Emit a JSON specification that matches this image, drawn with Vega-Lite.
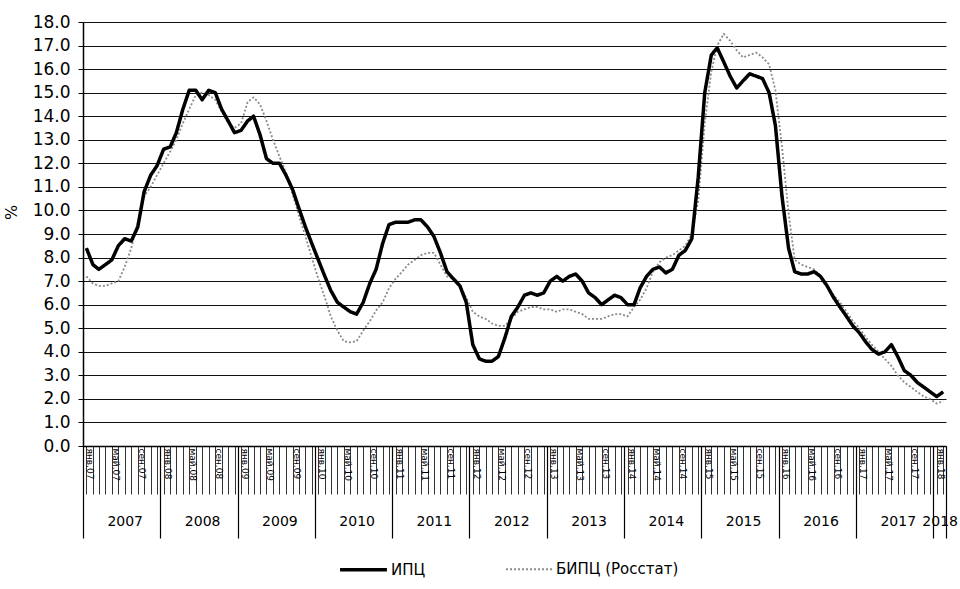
{
  "$schema": "https://vega.github.io/schema/vega-lite/v6.json",
  "autosize": "none",
  "width": 863,
  "height": 424,
  "padding": {"left": 83, "top": 22, "right": 14, "bottom": 143},
  "background": "white",
  "config": {
    "font": "DejaVu Sans",
    "view": {"stroke": null},
    "axis": {"labelColor": "black", "tickColor": "black", "domainColor": "black"}
  },
  "data": {"values": [
    {"d":"2007/01/01","ИПЦ":8.4,"БИПЦ (Росстат)":7.2},
    {"d":"2007/02/01","ИПЦ":7.7,"БИПЦ (Росстат)":6.9},
    {"d":"2007/03/01","ИПЦ":7.5,"БИПЦ (Росстат)":6.8},
    {"d":"2007/04/01","ИПЦ":7.7,"БИПЦ (Росстат)":6.8},
    {"d":"2007/05/01","ИПЦ":7.9,"БИПЦ (Росстат)":6.9},
    {"d":"2007/06/01","ИПЦ":8.5,"БИПЦ (Росстат)":7.0},
    {"d":"2007/07/01","ИПЦ":8.8,"БИПЦ (Росстат)":7.6},
    {"d":"2007/08/01","ИПЦ":8.7,"БИПЦ (Росстат)":8.4},
    {"d":"2007/09/01","ИПЦ":9.3,"БИПЦ (Росстат)":9.5},
    {"d":"2007/10/01","ИПЦ":10.8,"БИПЦ (Росстат)":10.6},
    {"d":"2007/11/01","ИПЦ":11.5,"БИПЦ (Росстат)":11.0},
    {"d":"2007/12/01","ИПЦ":11.9,"БИПЦ (Росстат)":11.5},
    {"d":"2008/01/01","ИПЦ":12.6,"БИПЦ (Росстат)":12.0},
    {"d":"2008/02/01","ИПЦ":12.7,"БИПЦ (Росстат)":12.5},
    {"d":"2008/03/01","ИПЦ":13.3,"БИПЦ (Росстат)":13.0},
    {"d":"2008/04/01","ИПЦ":14.3,"БИПЦ (Росстат)":13.7},
    {"d":"2008/05/01","ИПЦ":15.1,"БИПЦ (Росстат)":14.3},
    {"d":"2008/06/01","ИПЦ":15.1,"БИПЦ (Росстат)":14.9},
    {"d":"2008/07/01","ИПЦ":14.7,"БИПЦ (Росстат)":15.0},
    {"d":"2008/08/01","ИПЦ":15.1,"БИПЦ (Росстат)":14.9},
    {"d":"2008/09/01","ИПЦ":15.0,"БИПЦ (Росстат)":14.7},
    {"d":"2008/10/01","ИПЦ":14.3,"БИПЦ (Росстат)":14.2},
    {"d":"2008/11/01","ИПЦ":13.8,"БИПЦ (Росстат)":13.7},
    {"d":"2008/12/01","ИПЦ":13.3,"БИПЦ (Росстат)":13.5},
    {"d":"2009/01/01","ИПЦ":13.4,"БИПЦ (Росстат)":13.7},
    {"d":"2009/02/01","ИПЦ":13.8,"БИПЦ (Росстат)":14.6},
    {"d":"2009/03/01","ИПЦ":14.0,"БИПЦ (Росстат)":14.8},
    {"d":"2009/04/01","ИПЦ":13.2,"БИПЦ (Росстат)":14.5},
    {"d":"2009/05/01","ИПЦ":12.2,"БИПЦ (Росстат)":13.8},
    {"d":"2009/06/01","ИПЦ":12.0,"БИПЦ (Росстат)":13.0},
    {"d":"2009/07/01","ИПЦ":12.0,"БИПЦ (Росстат)":12.3},
    {"d":"2009/08/01","ИПЦ":11.5,"БИПЦ (Росстат)":11.6},
    {"d":"2009/09/01","ИПЦ":10.9,"БИПЦ (Росстат)":10.7},
    {"d":"2009/10/01","ИПЦ":10.1,"БИПЦ (Росстат)":9.8},
    {"d":"2009/11/01","ИПЦ":9.3,"БИПЦ (Росстат)":8.9},
    {"d":"2009/12/01","ИПЦ":8.6,"БИПЦ (Росстат)":8.0},
    {"d":"2010/01/01","ИПЦ":7.9,"БИПЦ (Росстат)":7.1},
    {"d":"2010/02/01","ИПЦ":7.2,"БИПЦ (Росстат)":6.3},
    {"d":"2010/03/01","ИПЦ":6.6,"БИПЦ (Росстат)":5.5},
    {"d":"2010/04/01","ИПЦ":6.1,"БИПЦ (Росстат)":4.9},
    {"d":"2010/05/01","ИПЦ":5.9,"БИПЦ (Росстат)":4.45},
    {"d":"2010/06/01","ИПЦ":5.7,"БИПЦ (Росстат)":4.4},
    {"d":"2010/07/01","ИПЦ":5.6,"БИПЦ (Росстат)":4.45},
    {"d":"2010/08/01","ИПЦ":6.1,"БИПЦ (Росстат)":4.9},
    {"d":"2010/09/01","ИПЦ":6.9,"БИПЦ (Росстат)":5.3},
    {"d":"2010/10/01","ИПЦ":7.5,"БИПЦ (Росстат)":5.75},
    {"d":"2010/11/01","ИПЦ":8.6,"БИПЦ (Росстат)":6.1},
    {"d":"2010/12/01","ИПЦ":9.4,"БИПЦ (Росстат)":6.7},
    {"d":"2011/01/01","ИПЦ":9.5,"БИПЦ (Росстат)":7.1},
    {"d":"2011/02/01","ИПЦ":9.5,"БИПЦ (Росстат)":7.4},
    {"d":"2011/03/01","ИПЦ":9.5,"БИПЦ (Росстат)":7.7},
    {"d":"2011/04/01","ИПЦ":9.6,"БИПЦ (Росстат)":7.9},
    {"d":"2011/05/01","ИПЦ":9.6,"БИПЦ (Росстат)":8.1},
    {"d":"2011/06/01","ИПЦ":9.3,"БИПЦ (Росстат)":8.2},
    {"d":"2011/07/01","ИПЦ":8.9,"БИПЦ (Росстат)":8.2},
    {"d":"2011/08/01","ИПЦ":8.2,"БИПЦ (Росстат)":7.7},
    {"d":"2011/09/01","ИПЦ":7.4,"БИПЦ (Росстат)":7.2},
    {"d":"2011/10/01","ИПЦ":7.1,"БИПЦ (Росстат)":7.1},
    {"d":"2011/11/01","ИПЦ":6.8,"БИПЦ (Росстат)":6.8},
    {"d":"2011/12/01","ИПЦ":6.1,"БИПЦ (Росстат)":6.3},
    {"d":"2012/01/01","ИПЦ":4.3,"БИПЦ (Росстат)":5.7},
    {"d":"2012/02/01","ИПЦ":3.7,"БИПЦ (Росстат)":5.5},
    {"d":"2012/03/01","ИПЦ":3.6,"БИПЦ (Росстат)":5.4},
    {"d":"2012/04/01","ИПЦ":3.6,"БИПЦ (Росстат)":5.2},
    {"d":"2012/05/01","ИПЦ":3.8,"БИПЦ (Росстат)":5.1},
    {"d":"2012/06/01","ИПЦ":4.6,"БИПЦ (Росстат)":5.1},
    {"d":"2012/07/01","ИПЦ":5.5,"БИПЦ (Росстат)":5.4},
    {"d":"2012/08/01","ИПЦ":5.9,"БИПЦ (Росстат)":5.7},
    {"d":"2012/09/01","ИПЦ":6.4,"БИПЦ (Росстат)":5.8},
    {"d":"2012/10/01","ИПЦ":6.5,"БИПЦ (Росстат)":5.9},
    {"d":"2012/11/01","ИПЦ":6.4,"БИПЦ (Росстат)":5.9},
    {"d":"2012/12/01","ИПЦ":6.5,"БИПЦ (Росстат)":5.8},
    {"d":"2013/01/01","ИПЦ":7.0,"БИПЦ (Росстат)":5.8},
    {"d":"2013/02/01","ИПЦ":7.2,"БИПЦ (Росстат)":5.7},
    {"d":"2013/03/01","ИПЦ":7.0,"БИПЦ (Росстат)":5.8},
    {"d":"2013/04/01","ИПЦ":7.2,"БИПЦ (Росстат)":5.8},
    {"d":"2013/05/01","ИПЦ":7.3,"БИПЦ (Росстат)":5.7},
    {"d":"2013/06/01","ИПЦ":7.0,"БИПЦ (Росстат)":5.6},
    {"d":"2013/07/01","ИПЦ":6.5,"БИПЦ (Росстат)":5.4},
    {"d":"2013/08/01","ИПЦ":6.3,"БИПЦ (Росстат)":5.4},
    {"d":"2013/09/01","ИПЦ":6.0,"БИПЦ (Росстат)":5.4},
    {"d":"2013/10/01","ИПЦ":6.2,"БИПЦ (Росстат)":5.5},
    {"d":"2013/11/01","ИПЦ":6.4,"БИПЦ (Росстат)":5.6},
    {"d":"2013/12/01","ИПЦ":6.3,"БИПЦ (Росстат)":5.6},
    {"d":"2014/01/01","ИПЦ":6.0,"БИПЦ (Росстат)":5.5},
    {"d":"2014/02/01","ИПЦ":6.0,"БИПЦ (Росстат)":5.9},
    {"d":"2014/03/01","ИПЦ":6.7,"БИПЦ (Росстат)":6.2},
    {"d":"2014/04/01","ИПЦ":7.2,"БИПЦ (Росстат)":6.7},
    {"d":"2014/05/01","ИПЦ":7.5,"БИПЦ (Росстат)":7.4},
    {"d":"2014/06/01","ИПЦ":7.6,"БИПЦ (Росстат)":7.8},
    {"d":"2014/07/01","ИПЦ":7.35,"БИПЦ (Росстат)":8.0},
    {"d":"2014/08/01","ИПЦ":7.5,"БИПЦ (Росстат)":8.1},
    {"d":"2014/09/01","ИПЦ":8.1,"БИПЦ (Росстат)":8.3},
    {"d":"2014/10/01","ИПЦ":8.3,"БИПЦ (Росстат)":8.5},
    {"d":"2014/11/01","ИПЦ":8.8,"БИПЦ (Росстат)":9.0},
    {"d":"2014/12/01","ИПЦ":11.4,"БИПЦ (Росстат)":10.4},
    {"d":"2015/01/01","ИПЦ":15.0,"БИПЦ (Росстат)":13.7},
    {"d":"2015/02/01","ИПЦ":16.6,"БИПЦ (Росстат)":15.9},
    {"d":"2015/03/01","ИПЦ":16.9,"БИПЦ (Росстат)":17.0},
    {"d":"2015/04/01","ИПЦ":16.3,"БИПЦ (Росстат)":17.5},
    {"d":"2015/05/01","ИПЦ":15.7,"БИПЦ (Росстат)":17.2},
    {"d":"2015/06/01","ИПЦ":15.2,"БИПЦ (Росстат)":16.8},
    {"d":"2015/07/01","ИПЦ":15.5,"БИПЦ (Росстат)":16.5},
    {"d":"2015/08/01","ИПЦ":15.8,"БИПЦ (Росстат)":16.6},
    {"d":"2015/09/01","ИПЦ":15.7,"БИПЦ (Росстат)":16.7},
    {"d":"2015/10/01","ИПЦ":15.6,"БИПЦ (Росстат)":16.5},
    {"d":"2015/11/01","ИПЦ":15.0,"БИПЦ (Росстат)":16.2},
    {"d":"2015/12/01","ИПЦ":13.6,"БИПЦ (Росстат)":15.1},
    {"d":"2016/01/01","ИПЦ":10.6,"БИПЦ (Росстат)":12.7},
    {"d":"2016/02/01","ИПЦ":8.4,"БИПЦ (Росстат)":9.9},
    {"d":"2016/03/01","ИПЦ":7.4,"БИПЦ (Росстат)":7.9},
    {"d":"2016/04/01","ИПЦ":7.3,"БИПЦ (Росстат)":7.7},
    {"d":"2016/05/01","ИПЦ":7.3,"БИПЦ (Росстат)":7.6},
    {"d":"2016/06/01","ИПЦ":7.4,"БИПЦ (Росстат)":7.5},
    {"d":"2016/07/01","ИПЦ":7.2,"БИПЦ (Росстат)":7.2},
    {"d":"2016/08/01","ИПЦ":6.8,"БИПЦ (Росстат)":6.8},
    {"d":"2016/09/01","ИПЦ":6.3,"БИПЦ (Росстат)":6.4},
    {"d":"2016/10/01","ИПЦ":5.9,"БИПЦ (Росстат)":6.1},
    {"d":"2016/11/01","ИПЦ":5.5,"БИПЦ (Росстат)":5.7},
    {"d":"2016/12/01","ИПЦ":5.1,"БИПЦ (Росстат)":5.3},
    {"d":"2017/01/01","ИПЦ":4.8,"БИПЦ (Росстат)":5.0},
    {"d":"2017/02/01","ИПЦ":4.4,"БИПЦ (Росстат)":4.6},
    {"d":"2017/03/01","ИПЦ":4.1,"БИПЦ (Росстат)":4.3},
    {"d":"2017/04/01","ИПЦ":3.9,"БИПЦ (Росстат)":4.0},
    {"d":"2017/05/01","ИПЦ":4.0,"БИПЦ (Росстат)":3.7},
    {"d":"2017/06/01","ИПЦ":4.3,"БИПЦ (Росстат)":3.4},
    {"d":"2017/07/01","ИПЦ":3.8,"БИПЦ (Росстат)":3.0},
    {"d":"2017/08/01","ИПЦ":3.2,"БИПЦ (Росстат)":2.7},
    {"d":"2017/09/01","ИПЦ":3.0,"БИПЦ (Росстат)":2.5},
    {"d":"2017/10/01","ИПЦ":2.7,"БИПЦ (Росстат)":2.3},
    {"d":"2017/11/01","ИПЦ":2.5,"БИПЦ (Росстат)":2.1},
    {"d":"2017/12/01","ИПЦ":2.3,"БИПЦ (Росстат)":2.0},
    {"d":"2018/01/01","ИПЦ":2.1,"БИПЦ (Росстат)":1.8},
    {"d":"2018/02/01","ИПЦ":2.3,"БИПЦ (Росстат)":1.9}
  ]},
  "transform": [
    {"fold": ["БИПЦ (Росстат)", "ИПЦ"], "as": ["series", "value"]}
  ],
  "encoding": {
    "y": {
      "field": "value", "type": "quantitative",
      "scale": {"domain": [0, 18], "nice": false, "zero": true},
      "axis": {
        "values": [0,1,2,3,4,5,6,7,8,9,10,11,12,13,14,15,16,17,18],
        "format": ".1f",
        "title": "%",
        "titleFontSize": 16,
        "titleFontWeight": "normal",
        "titleX": -64,
        "titleY": 190,
        "labelFontSize": 17,
        "labelPadding": 8,
        "tickSize": 5,
        "grid": true,
        "gridColor": "#111111",
        "gridWidth": 1.2,
        "domainWidth": 1.5
      }
    }
  },
  "layer": [
    {
      "mark": {"type": "line", "strokeJoin": "round"},
      "encoding": {
        "x": {
          "field": "d", "type": "temporal",
          "scale": {"domain": [{"year": 2006, "month": 12, "date": 16}, {"year": 2018, "month": 2, "date": 14}]},
          "axis": {
            "orient": "bottom",
            "title": null,
            "tickCount": {"interval": "month", "step": 1},
            "tickSize": 48,
            "tickWidth": 0.8,
            "domainWidth": 1.5,
            "labelAngle": 90,
            "labelAlign": "left",
            "labelBaseline": "middle",
            "labelPadding": -46,
            "labelOffset": 3.5,
            "labelFontSize": 9,
            "labelOverlap": false,
            "labelFlush": false,
            "labelBound": false,
            "grid": false,
            "labelExpr": "month(datum.value) % 4 == 0 ? ['янв','фев','мар','апр','май','июн','июл','авг','сен','окт','ноя','дек'][month(datum.value)] + '.' + timeFormat(datum.value, '%y') : ''"
          }
        },
        "color": {
          "field": "series", "type": "nominal",
          "scale": {"domain": ["ИПЦ", "БИПЦ (Росстат)"], "range": ["#000000", "#8a8a8a"]},
          "legend": {
            "orient": "none",
            "legendX": 255,
            "legendY": 522,
            "direction": "horizontal",
            "title": null,
            "symbolType": "stroke",
            "symbolSize": 2200,
            "labelFontSize": 15,
            "labelColor": "black",
            "labelOffset": 2,
            "columnPadding": 76,
            "padding": 0
          }
        },
        "strokeWidth": {
          "field": "series", "type": "nominal",
          "scale": {"domain": ["ИПЦ", "БИПЦ (Росстат)"], "range": [3.5, 1.8]},
          "legend": null
        },
        "strokeDash": {
          "field": "series", "type": "nominal",
          "scale": {"domain": ["ИПЦ", "БИПЦ (Росстат)"], "range": [[1, 0], [2, 2]]},
          "legend": null
        }
      }
    },
    {
      "mark": {"type": "line", "opacity": 0},
      "encoding": {
        "detail": {"field": "series"},
        "x": {
          "field": "d", "type": "temporal",
          "axis": {
            "orient": "bottom",
            "title": null,
            "values": [
              {"year": 2006, "month": 12, "date": 16},
              {"year": 2007, "month": 12, "date": 16},
              {"year": 2008, "month": 12, "date": 16},
              {"year": 2009, "month": 12, "date": 16},
              {"year": 2010, "month": 12, "date": 16},
              {"year": 2011, "month": 12, "date": 16},
              {"year": 2012, "month": 12, "date": 16},
              {"year": 2013, "month": 12, "date": 16},
              {"year": 2014, "month": 12, "date": 16},
              {"year": 2015, "month": 12, "date": 16},
              {"year": 2016, "month": 12, "date": 16},
              {"year": 2017, "month": 12, "date": 16},
              {"year": 2018, "month": 2, "date": 14}
            ],
            "tickSize": 92,
            "tickWidth": 1.2,
            "labels": false,
            "domain": false,
            "grid": false
          }
        }
      }
    },
    {
      "mark": {"type": "line", "opacity": 0},
      "encoding": {
        "detail": {"field": "series"},
        "x": {
          "field": "d", "type": "temporal",
          "axis": {
            "orient": "bottom",
            "title": null,
            "values": [
              {"year": 2007, "month": 7, "date": 1},
              {"year": 2008, "month": 7, "date": 1},
              {"year": 2009, "month": 7, "date": 1},
              {"year": 2010, "month": 7, "date": 1},
              {"year": 2011, "month": 7, "date": 1},
              {"year": 2012, "month": 7, "date": 1},
              {"year": 2013, "month": 7, "date": 1},
              {"year": 2014, "month": 7, "date": 1},
              {"year": 2015, "month": 7, "date": 1},
              {"year": 2016, "month": 7, "date": 1},
              {"year": 2017, "month": 7, "date": 1},
              {"year": 2018, "month": 1, "date": 15}
            ],
            "format": "%Y",
            "ticks": false,
            "tickSize": 0,
            "domain": false,
            "grid": false,
            "labelPadding": 68,
            "labelFontSize": 14,
            "labelAngle": 0,
            "labelAlign": "center",
            "labelBaseline": "top",
            "labelOverlap": false,
            "labelFlush": false,
            "labelBound": false
          }
        }
      }
    }
  ],
  "resolve": {"axis": {"x": "independent"}}
}
